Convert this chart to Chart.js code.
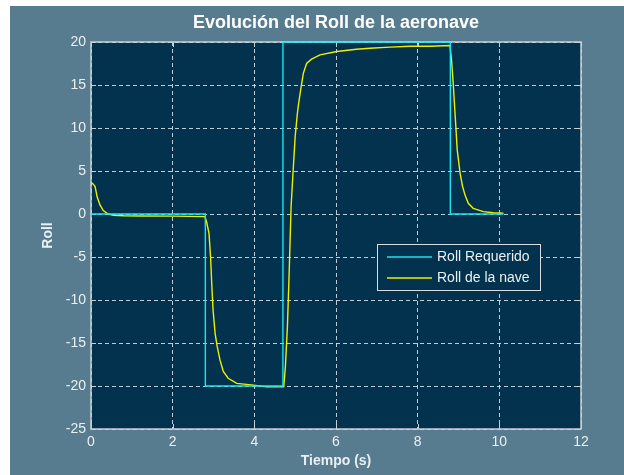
<!DOCTYPE html>
<html>
<head>
<meta charset="utf-8">
<script src="https://cdn.jsdelivr.net/npm/chart.js@4/dist/chart.umd.min.js"></script>
<style>
  html, body { margin: 0; padding: 0; background: #ffffff; }
  #wrap { position: absolute; left: 10px; top: 6px; width: 614px; height: 469px; background: #587c8f; }
</style>
</head>
<body>
<div id="wrap"><canvas id="c" width="614" height="469"></canvas></div>
<script>
// Commanded roll (step reference)
const tRequerido = [0, 2.8, 2.8, 4.7, 4.7, 8.8, 8.8, 10.1];
const rollRequerido = [0, 0, -20, -20, 20, 20, 0, 0];

// Aircraft roll response
const tNave = [0, 0.05, 0.1, 0.15, 0.22, 0.3, 0.42, 0.55, 0.8, 1.2, 2.0, 2.79,
  2.83, 2.89, 2.93, 2.96, 2.99, 3.04, 3.09, 3.16, 3.24, 3.36, 3.57, 3.98, 4.3, 4.72,
  4.76, 4.81, 4.85, 4.9, 4.95, 5.0, 5.05, 5.08, 5.14, 5.2, 5.28, 5.4, 5.61, 6.02, 6.5,
  6.83, 7.32, 7.81, 8.3, 8.79, 8.83, 8.87, 8.92, 8.97, 9.04, 9.1, 9.16, 9.24, 9.36,
  9.61, 9.85, 10.1];
const rollNave = [3.7, 3.5, 3.2, 2.0, 1.05, 0.4, 0.0, -0.15, -0.2, -0.23, -0.25, -0.3,
  -0.9, -2.25, -5.15, -8.45, -11.2, -13.9, -15.4, -17, -18.3, -19.1, -19.7, -19.9, -20.1, -20.1,
  -17.8, -13.1, -7.3, 0.85, 5, 9, 11.5, 12.7, 14.6, 16.35, 17.5, 18, 18.5, 18.9, 19.15,
  19.27, 19.4, 19.5, 19.5, 19.6, 17.9, 15.2, 11.3, 7.4, 4.7, 3.2, 2.2, 1.25, 0.66,
  0.27, 0.15, 0.08];

// Axis ticks
const xTicks = [0, 2, 4, 6, 8, 10, 12];
const yTicks = [-25, -20, -15, -10, -5, 0, 5, 10, 15, 20];

const titleText = 'Evolución del Roll de la aeronave';
const xTitle = 'Tiempo (s)';
const yTitle = 'Roll';
const seriesNames = ['Roll Requerido', 'Roll de la nave'];

const FONT = '"Liberation Sans", Arial, sans-serif';
const AXIS_COLOR = '#c9d0d4';
const TEXT_COLOR = '#e9eff2';

const toPoints = (ts, vs) => ts.map((t, i) => ({ x: t, y: vs[i] }));

// Frame, inward ticks, titles and legend
const framePlugin = {
  id: 'frame',
  beforeDraw(chart) {
    const { ctx, chartArea: a } = chart;
    ctx.save();
    ctx.fillStyle = '#02324d';
    ctx.fillRect(a.left, a.top, a.right - a.left, a.bottom - a.top);
    ctx.restore();
  },
  beforeDatasetsDraw(chart) {
    const { ctx, chartArea: a, scales } = chart;
    ctx.save();
    ctx.strokeStyle = AXIS_COLOR;
    ctx.lineWidth = 1;
    ctx.setLineDash([]);
    const L = 5;
    ctx.beginPath();
    xTicks.forEach(v => {
      const x = Math.round(scales.x.getPixelForValue(v)) + 0.5;
      ctx.moveTo(x, a.bottom); ctx.lineTo(x, a.bottom - L);
      ctx.moveTo(x, a.top); ctx.lineTo(x, a.top + L);
    });
    yTicks.forEach(v => {
      const y = Math.round(scales.y.getPixelForValue(v)) + 0.5;
      ctx.moveTo(a.left, y); ctx.lineTo(a.left + L, y);
      ctx.moveTo(a.right, y); ctx.lineTo(a.right - L, y);
    });
    ctx.stroke();
    ctx.lineWidth = 1.5;
    ctx.strokeRect(a.left, a.top, a.right - a.left, a.bottom - a.top);
    ctx.restore();
  },
  afterDraw(chart) {
    const { ctx, chartArea: a } = chart;
    const cx = (a.left + a.right) / 2;
    ctx.save();
    ctx.textAlign = 'center';
    ctx.textBaseline = 'middle';
    ctx.fillStyle = '#ffffff';
    ctx.font = 'bold 18px ' + FONT;
    ctx.fillText(titleText, cx, 17);
    ctx.fillStyle = TEXT_COLOR;
    ctx.font = 'bold 14px ' + FONT;
    ctx.fillText(xTitle, cx, 455);
    ctx.translate(38, (a.top + a.bottom) / 2);
    ctx.rotate(-Math.PI / 2);
    ctx.fillText(yTitle, 0, 0);
    ctx.restore();

    // legend box
    const bx = a.left + 286, by = a.top + 202, bw = 163, bh = 46;
    ctx.save();
    ctx.fillStyle = '#02324d';
    ctx.fillRect(bx, by, bw, bh);
    ctx.strokeStyle = '#d8dde0';
    ctx.lineWidth = 1;
    ctx.strokeRect(bx + 0.5, by + 0.5, bw, bh);
    ctx.font = '14px ' + FONT;
    ctx.textAlign = 'left';
    ctx.textBaseline = 'middle';
    chart.data.datasets.forEach((ds, i) => {
      const y = by + 13 + i * 21;
      ctx.strokeStyle = ds.borderColor;
      ctx.lineWidth = 1.5;
      ctx.beginPath();
      ctx.moveTo(bx + 10, y); ctx.lineTo(bx + 55, y);
      ctx.stroke();
      ctx.fillStyle = TEXT_COLOR;
      ctx.fillText(ds.label, bx + 60, y);
    });
    ctx.restore();
  }
};

new Chart(document.getElementById('c'), {
  type: 'line',
  data: {
    datasets: [
      { label: seriesNames[0], data: toPoints(tRequerido, rollRequerido),
        borderColor: '#19e6ee', borderWidth: 1.4, pointRadius: 0, tension: 0, fill: false },
      { label: seriesNames[1], data: toPoints(tNave, rollNave),
        borderColor: '#eef000', borderWidth: 1.4, pointRadius: 0, tension: 0, fill: false }
    ]
  },
  options: {
    responsive: false,
    animation: false,
    events: [],
    layout: { padding: { left: 0, top: 36, right: 43, bottom: 0 } },
    plugins: { legend: { display: false }, title: { display: false }, tooltip: { enabled: false } },
    scales: {
      x: {
        type: 'linear', min: 0, max: 12,
        afterBuildTicks: s => { s.ticks = xTicks.map(v => ({ value: v })); },
        afterFit: s => { s.height = 46; },
        ticks: { color: TEXT_COLOR, font: { family: FONT, size: 14 }, padding: 5, maxRotation: 0 },
        grid: { color: 'rgba(225,232,236,0.85)', lineWidth: 1, drawTicks: false },
        border: { display: false, dash: [4, 3] }
      },
      y: {
        type: 'linear', min: -25, max: 20,
        afterBuildTicks: s => { s.ticks = yTicks.map(v => ({ value: v })); },
        afterFit: s => { s.width = 81; },
        ticks: { color: TEXT_COLOR, font: { family: FONT, size: 14 }, padding: 5 },
        grid: { color: 'rgba(225,232,236,0.85)', lineWidth: 1, drawTicks: false },
        border: { display: false, dash: [4, 3] }
      }
    }
  },
  plugins: [framePlugin]
});
</script>
</body>
</html>
